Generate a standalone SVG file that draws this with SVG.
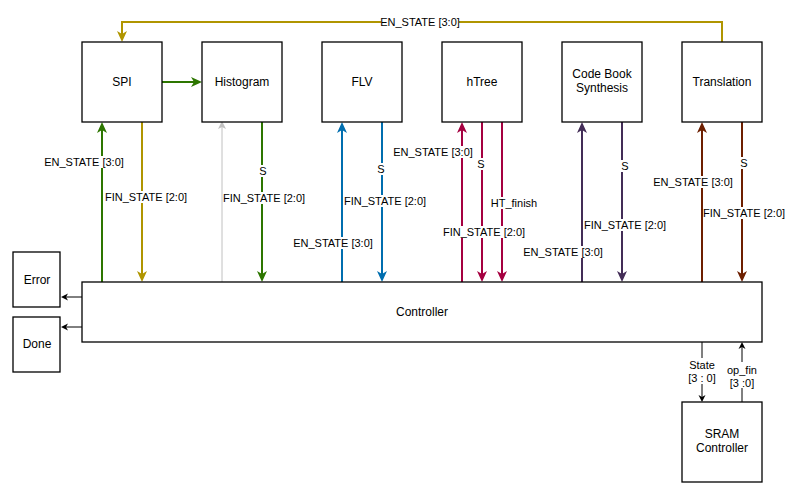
<svg xmlns="http://www.w3.org/2000/svg" width="794" height="490" viewBox="0 0 794 490">
<style>
.box{fill:#fff;stroke:#000;stroke-width:1.3}
.t{font-family:"Liberation Sans",Arial,sans-serif;font-size:12px;fill:#000;text-anchor:middle}
.l{font-family:"Liberation Sans",Arial,sans-serif;font-size:11px;fill:#000;text-anchor:middle}
.bg{fill:#fff}
.c{fill:none;stroke-width:2}
.k{fill:none;stroke:#000;stroke-width:1}
</style>
<defs>
<marker id="aGreen" markerUnits="userSpaceOnUse" markerWidth="12" markerHeight="12" viewBox="0 -6 12 12" refX="3" refY="0" orient="auto"><path d="M11,0 L0,-5 L3,0 L0,5 Z" fill="#2D7600"/></marker>
<marker id="aGold" markerUnits="userSpaceOnUse" markerWidth="12" markerHeight="12" viewBox="0 -6 12 12" refX="3" refY="0" orient="auto"><path d="M11,0 L0,-5 L3,0 L0,5 Z" fill="#B09500"/></marker>
<marker id="aBlue" markerUnits="userSpaceOnUse" markerWidth="12" markerHeight="12" viewBox="0 -6 12 12" refX="3" refY="0" orient="auto"><path d="M11,0 L0,-5 L3,0 L0,5 Z" fill="#006EAF"/></marker>
<marker id="aCrimson" markerUnits="userSpaceOnUse" markerWidth="12" markerHeight="12" viewBox="0 -6 12 12" refX="3" refY="0" orient="auto"><path d="M11,0 L0,-5 L3,0 L0,5 Z" fill="#A50040"/></marker>
<marker id="aViolet" markerUnits="userSpaceOnUse" markerWidth="12" markerHeight="12" viewBox="0 -6 12 12" refX="3" refY="0" orient="auto"><path d="M11,0 L0,-5 L3,0 L0,5 Z" fill="#432D57"/></marker>
<marker id="aBrown" markerUnits="userSpaceOnUse" markerWidth="12" markerHeight="12" viewBox="0 -6 12 12" refX="3" refY="0" orient="auto"><path d="M11,0 L0,-5 L3,0 L0,5 Z" fill="#6D1F00"/></marker>
<marker id="aGrey" markerUnits="userSpaceOnUse" markerWidth="10" markerHeight="10" viewBox="0 -5 10 10" refX="2" refY="0" orient="auto"><path d="M8,0 L0,-4 L2,0 L0,4 Z" fill="#C0C0C0"/></marker>
<marker id="aBlack" markerUnits="userSpaceOnUse" markerWidth="10" markerHeight="10" viewBox="0 -5 10 10" refX="2" refY="0" orient="auto"><path d="M7,0 L0,-3.5 L2,0 L0,3.5 Z" fill="#000"/></marker>
</defs>

<g id="connectors">
<path class="c" stroke="#B09500" d="M722,42 V22 H122 V34" marker-end="url(#aGold)"/>
<path class="c" stroke="#2D7600" d="M162,82 H194" marker-end="url(#aGreen)"/>
<path class="c" stroke="#2D7600" d="M102,282 V130" marker-end="url(#aGreen)"/>
<path class="c" stroke="#B09500" d="M142,122 V274" marker-end="url(#aGold)"/>
<path fill="none" stroke="#C0C0C0" stroke-width="1" d="M222,282 V127" marker-end="url(#aGrey)"/>
<path class="c" stroke="#2D7600" d="M262,122 V274" marker-end="url(#aGreen)"/>
<path class="c" stroke="#006EAF" d="M342,282 V130" marker-end="url(#aBlue)"/>
<path class="c" stroke="#006EAF" d="M382,122 V274" marker-end="url(#aBlue)"/>
<path class="c" stroke="#A50040" d="M462,282 V130" marker-end="url(#aCrimson)"/>
<path class="c" stroke="#A50040" d="M482,122 V274" marker-end="url(#aCrimson)"/>
<path class="c" stroke="#A50040" d="M502,122 V274" marker-end="url(#aCrimson)"/>
<path class="c" stroke="#432D57" d="M582,282 V130" marker-end="url(#aViolet)"/>
<path class="c" stroke="#432D57" d="M622,122 V274" marker-end="url(#aViolet)"/>
<path class="c" stroke="#6D1F00" d="M702,282 V130" marker-end="url(#aBrown)"/>
<path class="c" stroke="#6D1F00" d="M742,122 V274" marker-end="url(#aBrown)"/>
<path class="k" d="M82,297 H66" marker-end="url(#aBlack)"/>
<path class="k" d="M82,327 H66" marker-end="url(#aBlack)"/>
<path class="k" d="M702,342 V397" marker-end="url(#aBlack)"/>
<path class="k" d="M742,402 V347" marker-end="url(#aBlack)"/>

<g id="labels">
<rect class="bg" x="381" y="16" width="78" height="12"/>
<text class="l" x="420" y="26">EN_STATE [3:0]</text>
<rect class="bg" x="45" y="156" width="78" height="12"/>
<text class="l" x="84" y="166">EN_STATE [3:0]</text>
<rect class="bg" x="106" y="191" width="81" height="12"/>
<text class="l" x="146" y="201">FIN_STATE [2:0]</text>
<rect class="bg" x="258" y="165" width="9" height="12"/>
<text class="l" x="263" y="175">S</text>
<rect class="bg" x="223" y="192" width="81" height="12"/>
<text class="l" x="264" y="202">FIN_STATE [2:0]</text>
<rect class="bg" x="294" y="237" width="78" height="12"/>
<text class="l" x="333" y="247">EN_STATE [3:0]</text>
<rect class="bg" x="377" y="163" width="9" height="12"/>
<text class="l" x="381" y="173">S</text>
<rect class="bg" x="345" y="195" width="81" height="12"/>
<text class="l" x="385" y="205">FIN_STATE [2:0]</text>
<rect class="bg" x="394" y="146" width="78" height="12"/>
<text class="l" x="433" y="156">EN_STATE [3:0]</text>
<rect class="bg" x="477" y="158" width="9" height="12"/>
<text class="l" x="481" y="168">S</text>
<rect class="bg" x="490" y="197" width="48" height="12"/>
<text class="l" x="514" y="207">HT_finish</text>
<rect class="bg" x="443" y="226" width="81" height="12"/>
<text class="l" x="484" y="236">FIN_STATE [2:0]</text>
<rect class="bg" x="524" y="246" width="78" height="12"/>
<text class="l" x="563" y="256">EN_STATE [3:0]</text>
<rect class="bg" x="620" y="160" width="9" height="12"/>
<text class="l" x="625" y="170">S</text>
<rect class="bg" x="585" y="219" width="81" height="12"/>
<text class="l" x="625" y="229">FIN_STATE [2:0]</text>
<rect class="bg" x="654" y="176" width="78" height="12"/>
<text class="l" x="693" y="186">EN_STATE [3:0]</text>
<rect class="bg" x="740" y="157" width="9" height="12"/>
<text class="l" x="744" y="167">S</text>
<rect class="bg" x="704" y="207" width="81" height="12"/>
<text class="l" x="744" y="217">FIN_STATE [2:0]</text>
<rect class="bg" x="688" y="358" width="28" height="26"/>
<text class="l" x="702" y="369">State</text>
<text class="l" x="702" y="382">[3 : 0]</text>
<rect class="bg" x="726" y="362" width="32" height="26"/>
<text class="l" x="742" y="374">op_fin</text>
<text class="l" x="742" y="387">[3 :0]</text>
</g>
</g>

<g id="spi"><rect class="box" x="82" y="42" width="80" height="80"/><text class="t" x="122" y="86">SPI</text></g>
<g id="histogram"><rect class="box" x="202" y="42" width="80" height="80"/><text class="t" x="242" y="86">Histogram</text></g>
<g id="flv"><rect class="box" x="322" y="42" width="80" height="80"/><text class="t" x="362" y="86">FLV</text></g>
<g id="htree"><rect class="box" x="442" y="42" width="80" height="80"/><text class="t" x="482" y="86">hTree</text></g>
<g id="codebook"><rect class="box" x="562" y="42" width="80" height="80"/><text class="t" x="602" y="78">Code Book</text><text class="t" x="602" y="92">Synthesis</text></g>
<g id="translation"><rect class="box" x="682" y="42" width="80" height="80"/><text class="t" x="722" y="86">Translation</text></g>
<g id="controller"><rect class="box" x="82" y="282" width="680" height="60"/><text class="t" x="422" y="316">Controller</text></g>
<g id="error"><rect class="box" x="13" y="252" width="47" height="55"/><text class="t" x="37" y="284">Error</text></g>
<g id="done"><rect class="box" x="13" y="317" width="47" height="55"/><text class="t" x="37" y="348">Done</text></g>
<g id="sram"><rect class="box" x="682" y="402" width="80" height="80"/><text class="t" x="722" y="438">SRAM</text><text class="t" x="722" y="452">Controller</text></g>
</svg>
